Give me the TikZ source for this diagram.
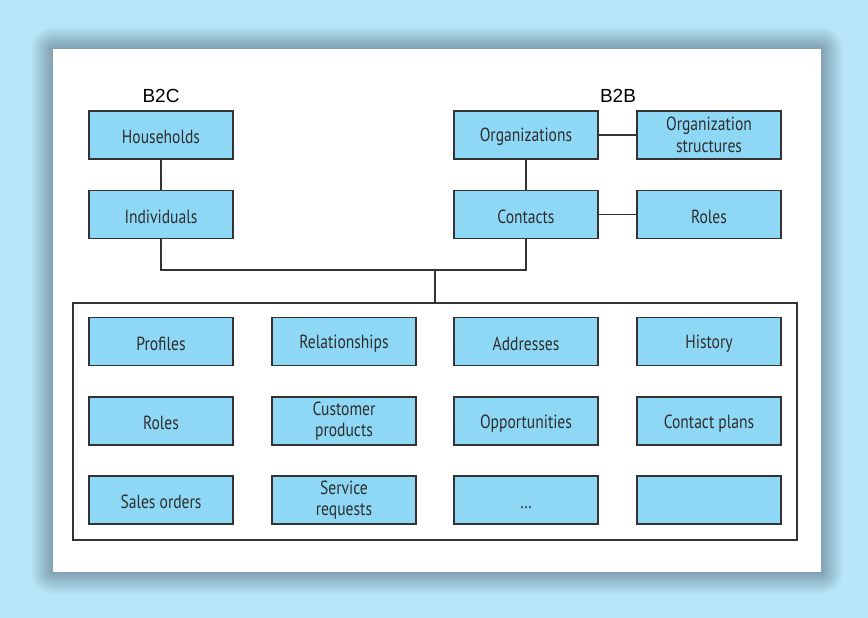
\documentclass[tikz,border=0pt]{standalone}
\usepackage{fontspec}
\setmainfont{PT Sans}[FakeStretch=0.82]
\newfontfamily\labelfont{Liberation Sans}
\begin{document}
\begin{tikzpicture}[x=1pt,y=-1pt,
  ent/.style={draw=edgegray,fill=boxblue,line width=1.2pt,minimum width=144pt,minimum height=48pt,
    inner sep=2pt,align=center,text=txtgray,font=\fontsize{19}{21.5}\selectfont,
    execute at begin node=\vphantom{\raisebox{4.5pt}{Hg}}},
  grp/.style={draw=edgegray,line width=1.2pt,fill=white,minimum width=724pt,minimum height=237pt,inner sep=0pt},
  ttl/.style={text=black,font=\labelfont\fontsize{19}{22}\selectfont,inner sep=0pt},
  con/.style={draw=edgegray,line width=1.2pt}]
\definecolor{bgblue}{HTML}{B9E5F8}
\definecolor{boxblue}{HTML}{8ED8F6}
\definecolor{edgegray}{HTML}{333333}
\definecolor{txtgray}{HTML}{2E2E2E}
\definecolor{shadowc}{HTML}{202830}
\useasboundingbox (0,0) rectangle (868,618);
\fill[bgblue] (0,0) rectangle (868,618);
% soft shadow around the panel
\foreach \i in {1,...,22}{
  \fill[shadowc,opacity=0.017,rounded corners=\i pt] (53-\i,49-\i) rectangle (821+\i,572+\i);
}
\fill[white] (53,49) rectangle (821,572);
% titles
\node[ttl] (b2c) at (161,96) {B2C};
\node[ttl] (b2b) at (618,96) {B2B};
% top boxes
\node[ent] (hh) at (161,135) {Households};
\node[ent] (ind) at (161,214.5) {Individuals};
\node[ent] (org) at (526,135) {Organizations};
\node[ent] (ost) at (709,135) {Organization\\structures};
\node[ent] (cts) at (526,214.5) {Contacts};
\node[ent] (rol) at (709,214.5) {Roles};
% group box
\node[grp] (outer) at (435,421.5) {};
% grid
\node[ent] (g11) at (161,341.5) {Profiles};
\node[ent] (g12) at (344,341.5) {Relationships};
\node[ent] (g13) at (526,341.5) {Addresses};
\node[ent] (g14) at (709,341.5) {History};
\node[ent] (g21) at (161,421) {Roles};
\node[ent] (g22) at (344,421) {Customer\\products};
\node[ent] (g23) at (526,421) {Opportunities};
\node[ent] (g24) at (709,421) {Contact plans};
\node[ent] (g31) at (161,500) {Sales orders};
\node[ent] (g32) at (344,500) {Service\\requests};
\node[ent] (g33) at (526,500) {\dots};
\node[ent] (g34) at (709,500) {};
% connectors
\draw[con] (hh) -- (ind);
\draw[con] (org) -- (cts);
\draw[con] (org) -- (ost);
\draw[con] (cts) -- (rol);
\coordinate (j) at (435,270);
\draw[con] (ind.south) |- (j) -| (cts.south);
\draw[con] (j) -- (outer.north);
\end{tikzpicture}
\end{document}
